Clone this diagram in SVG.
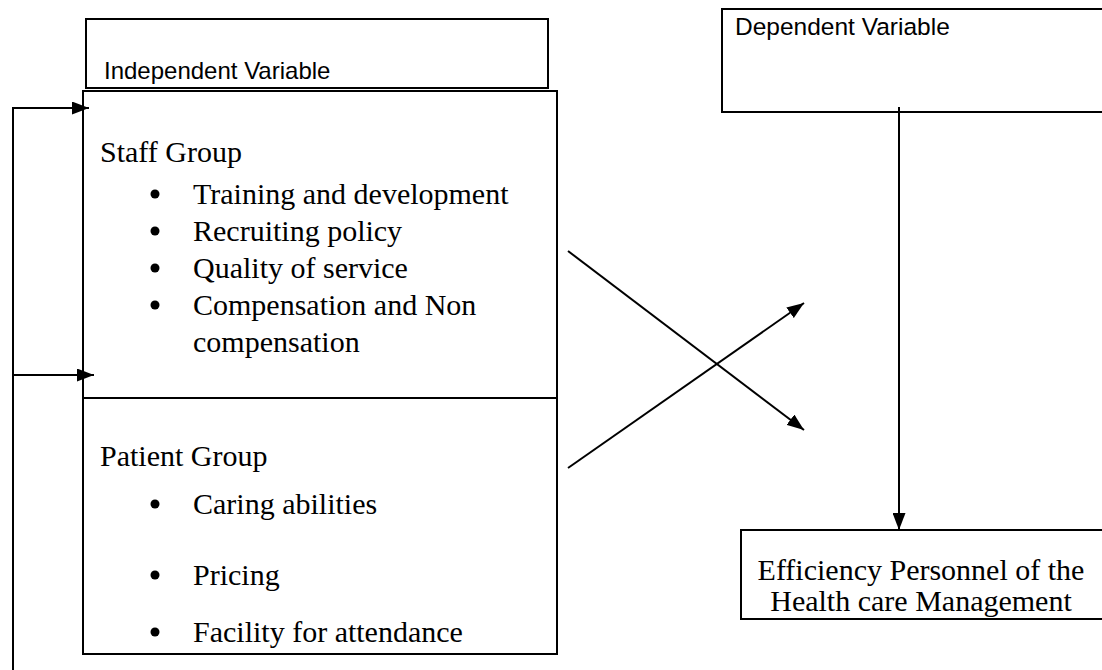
<svg xmlns="http://www.w3.org/2000/svg" width="1102" height="670" viewBox="0 0 1102 670">
<defs>
<style>
.box{fill:#fff;stroke:#000;stroke-width:2}
.line{fill:none;stroke:#000;stroke-width:2}
.sans{font-family:"Liberation Sans",Arial,sans-serif;font-size:24px;fill:#000}
.serif{font-family:"Liberation Serif","Times New Roman",serif;font-size:30px;fill:#000}
</style>
<marker id="arrBig" viewBox="0 0 10 10" refX="10" refY="5" markerWidth="17" markerHeight="13" markerUnits="userSpaceOnUse" orient="auto" preserveAspectRatio="none">
<path d="M0,0 L10,5 L0,10 z" fill="#000"/>
</marker>
</defs>
<rect width="1102" height="670" fill="#fff"/>

<g id="independent-variable">
<rect class="box" x="86" y="19" width="462" height="69"/>
<text class="sans" x="104" y="79">Independent Variable</text>
</g>

<g id="staff-group">
<rect class="box" x="83" y="91" width="474" height="307"/>
<text class="serif" x="100" y="162">Staff Group</text>
<g class="serif">
<circle cx="155" cy="194" r="4.5"/><text x="193" y="204">Training and development</text>
<circle cx="155" cy="231" r="4.5"/><text x="193" y="241">Recruiting policy</text>
<circle cx="155" cy="268" r="4.5"/><text x="193" y="278">Quality of service</text>
<circle cx="155" cy="305" r="4.5"/><text x="193" y="315">Compensation and Non</text>
<text x="193" y="352">compensation</text>
</g>
</g>

<g id="patient-group">
<rect class="box" x="83" y="398" width="474" height="256"/>
<text class="serif" x="100" y="466">Patient Group</text>
<g class="serif">
<circle cx="155" cy="504" r="4.5"/><text x="193" y="514">Caring abilities</text>
<circle cx="155" cy="575" r="4.5"/><text x="193" y="585">Pricing</text>
<circle cx="155" cy="632" r="4.5"/><text x="193" y="642">Facility for attendance</text>
</g>
</g>

<g id="dependent-variable">
<rect class="box" x="722" y="9" width="400" height="103"/>
<text class="sans" x="735" y="35" style="font-size:24.5px">Dependent Variable</text>
</g>

<g id="efficiency">
<rect class="box" x="741" y="530" width="380" height="89"/>
<text class="serif" x="921" y="580" text-anchor="middle">Efficiency Personnel of the</text>
<text class="serif" x="921" y="611" text-anchor="middle">Health care Management</text>
</g>

<g id="connectors">
<path class="line" d="M13,670 L13,108 L89,108" marker-end="url(#arrBig)"/>
<path class="line" d="M13,375 L94,375" marker-end="url(#arrBig)"/>
<path class="line" d="M568,251 L804,430" marker-end="url(#arrBig)"/>
<path class="line" d="M568,468 L804,303" marker-end="url(#arrBig)"/>
<path class="line" d="M899,107 L899,530" marker-end="url(#arrBig)"/>
</g>
</svg>
